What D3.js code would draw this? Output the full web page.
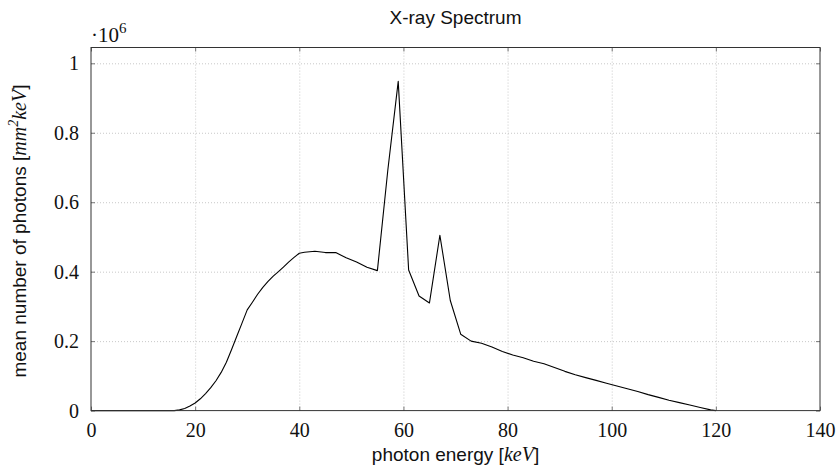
<!DOCTYPE html>
<html lang="en">
<head>
    <meta charset="UTF-8">
    <title>X-ray Spectrum</title>
    <script src="https://d3js.org/d3.v7.min.js"></script>
    <style>
        body { margin: 0; background: white; }
        svg { display: block; }
        .tick-label text { font-family: "Liberation Serif", "DejaVu Serif", serif; font-size: 20px; fill: #111; }
        .grid line { stroke: #c8c8c8; stroke-width: 1; stroke-dasharray: 1,2; }
        .grid path { display: none; }
        .sans { font-family: "Liberation Sans", Arial, sans-serif; font-size: 19px; fill: #111; }
        .math { font-family: "Liberation Serif", "DejaVu Serif", serif; font-style: italic; }
    </style>
</head>
<body>
<svg width="840" height="473"></svg>
<script>
    // spectrum samples (energy in keV, photons in units of 1e6)
    const energy = [0, 16, 17, 18, 19, 20, 21, 22, 23, 24, 25, 26, 27, 28, 29, 30, 31, 32, 33, 34,
        35, 36, 37, 38, 39, 40, 41, 43, 45, 47, 49, 51, 53, 55, 57, 59, 61, 63, 65, 67,
        69, 71, 73, 75, 77, 79, 81, 83, 85, 87, 89, 91, 93, 95, 97, 99, 101, 103, 105, 107,
        109, 111, 113, 115, 117, 119, 120];
    const photons = [0, 0, 0.002, 0.006, 0.013, 0.022, 0.034, 0.049, 0.066, 0.086, 0.110, 0.139, 0.176, 0.214, 0.252, 0.290, 0.312, 0.335, 0.355, 0.372,
        0.387, 0.400, 0.414, 0.428, 0.441, 0.453, 0.456, 0.459, 0.455, 0.455, 0.440, 0.428, 0.413, 0.403, 0.692, 0.948, 0.405, 0.330, 0.310, 0.505,
        0.317, 0.220, 0.200, 0.194, 0.183, 0.170, 0.160, 0.152, 0.142, 0.135, 0.124, 0.113, 0.103, 0.095, 0.087, 0.079, 0.071, 0.063, 0.055, 0.046,
        0.038, 0.030, 0.023, 0.016, 0.009, 0.002, 0];
    const xTicks = [0, 20, 40, 60, 80, 100, 120, 140];
    const yTicks = [0, 0.2, 0.4, 0.6, 0.8, 1];

    const svg = d3.select("svg");
    const plotL = 91, plotR = 820, plotT = 47.5, plotB = 410.6;

    const x = d3.scaleLinear().domain([0, 140]).range([plotL, plotR]);
    const y = d3.scaleLinear().domain([0, 1.0455]).range([plotB, plotT]);

    // grid
    svg.append("g").attr("class", "grid")
        .attr("transform", `translate(0,${plotB})`)
        .call(d3.axisBottom(x).tickValues(xTicks.slice(1, -1)).tickSize(-(plotB - plotT)).tickFormat(""));
    svg.append("g").attr("class", "grid")
        .attr("transform", `translate(${plotL},0)`)
        .call(d3.axisLeft(y).tickValues(yTicks.slice(1)).tickSize(-(plotR - plotL)).tickFormat(""));

    // the spectrum
    const pts = energy.map((e, i) => [e, photons[i]]);
    svg.append("path").datum(pts)
        .attr("fill", "none").attr("stroke", "#000").attr("stroke-width", 1.1)
        .attr("stroke-linejoin", "round")
        .attr("d", d3.line().x(d => x(d[0])).y(d => y(d[1])));

    // axes with ticks pointing inward
    const fmtY = d => d3.format("~g")(d);
    const gx = svg.append("g").attr("class", "tick-label")
        .attr("transform", `translate(0,${plotB})`)
        .call(d3.axisBottom(x).tickValues(xTicks).tickSizeInner(-4).tickSizeOuter(0).tickPadding(12));
    const gxTop = svg.append("g")
        .attr("transform", `translate(0,${plotT})`)
        .call(d3.axisTop(x).tickValues(xTicks).tickSizeInner(-4).tickSizeOuter(0).tickFormat(""));
    const gy = svg.append("g").attr("class", "tick-label")
        .attr("transform", `translate(${plotL},0)`)
        .call(d3.axisLeft(y).tickValues(yTicks).tickSizeInner(-4).tickSizeOuter(0).tickPadding(12).tickFormat(fmtY));
    const gyRight = svg.append("g")
        .attr("transform", `translate(${plotR},0)`)
        .call(d3.axisRight(y).tickValues(yTicks).tickSizeInner(-4).tickSizeOuter(0).tickFormat(""));
    [gx, gxTop, gy, gyRight].forEach(g => {
        g.select(".domain").remove();
        g.selectAll(".tick line").attr("stroke", "#777");
    });

    // frame
    svg.append("rect").attr("x", plotL).attr("y", plotT)
        .attr("width", plotR - plotL).attr("height", plotB - plotT)
        .attr("fill", "none").attr("stroke", "#333").attr("stroke-width", 1);

    // exponent marker
    const ex = svg.append("text").attr("x", 91).attr("y", 41.5)
        .attr("font-family", "Liberation Serif, serif").attr("font-size", 21).attr("fill", "#111");
    ex.append("tspan").text("·10");
    ex.append("tspan").attr("font-size", 15).attr("dy", -9).text("6");

    // title and labels
    svg.append("text").attr("class", "sans").attr("x", (plotL + plotR) / 2).attr("y", 24)
        .attr("font-size", 20).attr("text-anchor", "middle").text("X-ray Spectrum");

    const xl = svg.append("text").attr("class", "sans").attr("x", (plotL + plotR) / 2).attr("y", 461)
        .attr("text-anchor", "middle");
    xl.append("tspan").text("photon energy [");
    xl.append("tspan").attr("class", "math").attr("font-size", 20).text("keV");
    xl.append("tspan").text("]");

    const yl = svg.append("text").attr("class", "sans")
        .attr("transform", `translate(26,${(plotT + plotB) / 2 + 2}) rotate(-90)`)
        .attr("text-anchor", "middle");
    yl.append("tspan").text("mean number of photons [");
    yl.append("tspan").attr("class", "math").attr("font-size", 20).text("mm");
    yl.append("tspan").attr("class", "math").attr("font-size", 14).attr("dy", -8).text("2");
    yl.append("tspan").attr("class", "math").attr("font-size", 20).attr("dy", 8).text("keV");
    yl.append("tspan").text("]");
</script>
</body>
</html>
